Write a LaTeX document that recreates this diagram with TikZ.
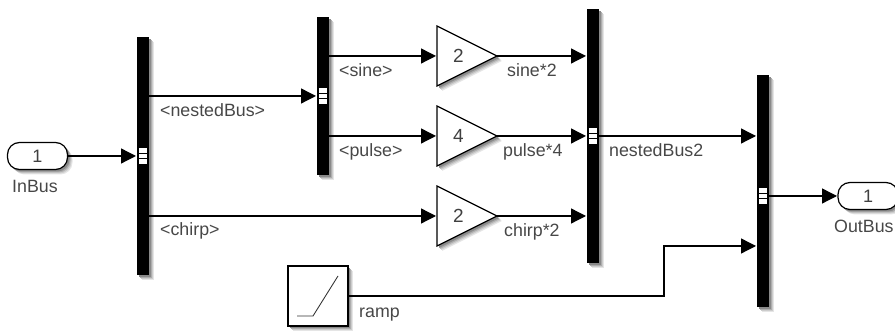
\documentclass[tikz,border=0pt]{standalone}
\usepackage{fontspec}
\setmainfont{Liberation Sans}
\usepackage{xcolor}
\usetikzlibrary{shapes.geometric, arrows.meta, positioning, calc, backgrounds}
\tikzstyle{arr} = [-{Triangle[length=15pt,width=15pt]}, line width=1.3pt, shorten >=1pt]

\begin{document}
\begin{tikzpicture}[
  x=1pt, y=1pt,
  busbar/.style={rectangle, fill=black, minimum width=12pt, inner sep=0pt,
                 outer sep=0pt},
  stripe/.style={rectangle, fill=white, minimum width=8pt, minimum height=4.4pt,
                 inner sep=0pt},
  port/.style={rectangle, rounded corners=12pt, draw=black, fill=white, line width=1.2pt,
               minimum width=60pt, minimum height=27pt, inner sep=0pt, outer sep=0pt,
               font=\fontsize{18}{20}\selectfont, text=black!75},
  gain/.style={isosceles triangle, isosceles triangle stretches, draw=black, fill=white,
               line width=1.2pt, minimum width=60pt, minimum height=60pt, inner sep=0pt,
               outer sep=0pt, font=\fontsize{19}{20}\selectfont, text=black!75,
               text width=36pt, align=center},
  src/.style={rectangle, draw=black, fill=white, line width=1.2pt, minimum size=60pt,
              inner sep=0pt, outer sep=0pt},
  lbl/.style={anchor=base west, inner sep=0pt, font=\fontsize{17.8}{20}\selectfont,
              text=black!72},
]
  \useasboundingbox (0,0) rectangle (895,331);

  \node[port] (inbus) at (37.5,175) {1};
  \node[busbar, minimum height=238pt, right=69.5pt of inbus] (busa) {};
  \node[busbar, minimum height=158pt, right=168pt of busa, yshift=60pt] (busb) {};
  \node[gain, right=108pt of busb.east, yshift=40pt] (gaina) {2};
  \node[gain, right=108pt of busb.east, yshift=-40pt] (gainb) {4};
  \node[gain, right=108pt of busb.east, yshift=-120pt] (gainc) {2};
  \node[busbar, minimum height=254pt, right=90pt of gainb.east] (busc) {};
  \node[busbar, minimum height=232pt, right=158pt of busc, yshift=-55pt] (busd) {};
  \node[port, right=69pt of busd, yshift=-5pt] (outbus) {1};
  \node[src] (ramp) at (318,35) {};
  \draw[line width=0.9pt, black!80] ($(ramp.center)+(-21,-20)$) -- ++(16,0) -- ++(25,40);

  % soft shadows, lightest copy first
  \begin{scope}[on background layer]
    \foreach \s/\c in {5/10, 4/20, 3/32, 2/46} {
      \foreach \blk in {busa, busb, busc, busd, ramp}
        \fill[black!\c] ($(\blk.south west)+(\s,-\s)$) rectangle ($(\blk.north east)+(\s,-\s)$);
      \foreach \blk in {inbus, outbus}
        \fill[black!\c, rounded corners=12pt] ($(\blk.south west)+(\s,-\s)$) rectangle ($(\blk.north east)+(\s,-\s)$);
      \foreach \blk in {gaina, gainb, gainc}
        \fill[black!\c] ($(\blk.apex)+(\s,-\s)$) -- ($(\blk.left corner)+(\s,-\s)$)
          -- ($(\blk.right corner)+(\s,-\s)$) -- cycle;
    }
  \end{scope}

  % white marks on the bars
  \foreach \bus/\off in {busa/0, busb/0, busc/0, busd/-5}
    \foreach \d in {-5.6,0,5.6}
      \node[stripe, yshift={(\d+\off)*1pt}] at (\bus) {};

  \draw[arr] (inbus) -- (busa);
  \draw[arr] (busa.east |- busb) -- (busb);
  \draw[arr] (busa.east |- gainc.west) -- (gainc.west);
  \draw[arr] (busb.east |- gaina.west) -- (gaina.west);
  \draw[arr] (busb.east |- gainb.west) -- (gainb.west);
  \draw[arr] (gaina.east) -- (gaina.east -| busc.west);
  \draw[arr] (gainb.east) -- (gainb.east -| busc.west);
  \draw[arr] (gainc.east) -- (gainc.east -| busc.west);
  \draw[arr] (busc) -- (busc -| busd.west);
  \draw[arr] (ramp.east) -- ++(316,0) |- ($(busd.west)+(0,-55)$);
  \draw[arr] (busd.east |- outbus) -- (outbus);

  % signal names
  \node[lbl] (lin)    at (12,138)  {InBus};
  \node[lbl] (lnest)  at (160,214) {<nestedBus>};
  \node[lbl] (lchirp) at (160,95)  {<chirp>};
  \node[lbl] (lsine)  at (339,254) {<sine>};
  \node[lbl] (lpulse) at (339,174) {<pulse>};
  \node[lbl] (lsinb)  at (507,254) {sine*2};
  \node[lbl] (lpulb)  at (503,174) {pulse*4};
  \node[lbl] (lchib)  at (504,94)  {chirp*2};
  \node[lbl] (lnestb) at (609,174) {nestedBus2};
  \node[lbl] (lramp)  at (359,13)  {ramp};
  \node[lbl] (lout)   at (834,98)  {OutBus};
\end{tikzpicture}
\end{document}
